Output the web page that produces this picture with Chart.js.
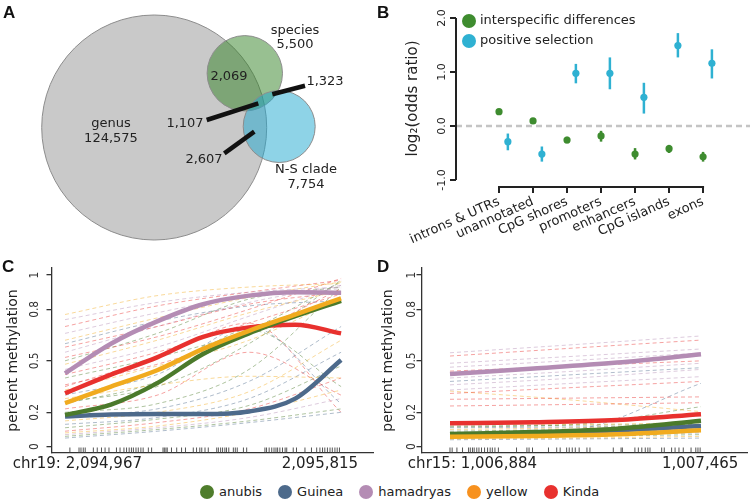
<!DOCTYPE html>
<html lang="en">
<head>
<meta charset="UTF-8">
<title>Methylation panels</title>
<style>
    body { margin: 0; background: #fff; font-family: "DejaVu Sans", Verdana, sans-serif; }
    #fig { position: relative; width: 751px; height: 503px; overflow: hidden; }
    canvas { position: absolute; }
    .tag { position: absolute; font-family: "Liberation Sans", Arial, sans-serif; font-weight: bold; font-size: 17px; line-height: 17px; color: #111; }
    #legend { position: absolute; left: 200px; top: 484px; display: flex; align-items: center; font-size: 13px; color: #222; }
    #legend span.dot { display: inline-block; width: 14px; height: 14px; border-radius: 50%; margin-right: 5px; }
    #legend span.lab { margin-right: 16px; }
</style>
</head>
<body>
<div id="fig">
    <canvas id="venn" width="378" height="252" style="left:0;top:0"></canvas>
    <canvas id="odds" width="373" height="252" style="left:378px;top:0"></canvas>
    <canvas id="regC" width="376" height="214" style="left:0;top:258px"></canvas>
    <canvas id="regD" width="375" height="214" style="left:376px;top:258px"></canvas>
    <div class="tag" style="left:3px;top:4px">A</div>
    <div class="tag" style="left:377px;top:4px">B</div>
    <div class="tag" style="left:2px;top:258px">C</div>
    <div class="tag" style="left:377px;top:258px">D</div>
    <div id="legend"></div>
</div>
<script src="https://cdn.jsdelivr.net/npm/chart.js"></script>
<script>
// ---- data ----
const species = ['anubis', 'Guinea', 'hamadryas', 'yellow', 'Kinda'];

// A: venn counts
const vennSets = ['genus', 'species', 'N-S clade'];
const vennSetSizes = [124575, 5500, 7754];
// genus&species, species&N-S, all three, genus&N-S
const vennOverlaps = [2069, 1323, 1107, 2607];

// B: log2 odds ratios
const features = ['introns & UTRs', 'unannotated', 'CpG shores', 'promoters', 'enhancers', 'CpG islands', 'exons'];
const interOR = [0.265, 0.093, -0.26, -0.185, -0.52, -0.42, -0.57];
const interLo = [0.235, 0.065, -0.32, -0.29, -0.62, -0.50, -0.66];
const interHi = [0.295, 0.12, -0.20, -0.09, -0.41, -0.35, -0.48];
const posOR = [-0.29, -0.52, 0.975, 0.975, 0.53, 1.49, 1.16];
const posLo = [-0.45, -0.66, 0.79, 0.68, 0.23, 1.27, 0.88];
const posHi = [-0.14, -0.38, 1.15, 1.27, 0.80, 1.72, 1.42];
const oddsTicks = [-1, 0, 1, 2];
const oddsTickLabels = ['-1.0', '0.0', '1.0', '2.0'];

// C/D shared y ticks
const methTicks = [0, 0.2, 0.5, 0.8, 1];
const methTickLabels = ['0', '0.2', '0.5', '0.8', '1'];

// C: chr19 region (x = bp from region start)
const xLabelsC = ['chr19: 2,094,967', '2,095,815'];
const xLabelPosC = [38, 783];
const curveXC = [0, 141, 283, 424, 565, 707, 848];
const curvesC = [
    [0.185, 0.245, 0.37, 0.54, 0.66, 0.76, 0.85],    // anubis
    [0.175, 0.187, 0.19, 0.19, 0.205, 0.28, 0.505],  // Guinea
    [0.427, 0.60, 0.73, 0.83, 0.88, 0.90, 0.897],    // hamadryas
    [0.253, 0.35, 0.445, 0.57, 0.675, 0.77, 0.864],  // yellow
    [0.311, 0.42, 0.52, 0.64, 0.695, 0.71, 0.66]     // Kinda
];
const dashXC = [0, 283, 565, 848];
const dashC = [
    [0.77, 0.88, 0.93, 0.95], [0.74, 0.84, 0.90, 0.93], [0.70, 0.82, 0.90, 0.97], [0.66, 0.78, 0.88, 0.92],
    [0.62, 0.75, 0.87, 0.96], [0.58, 0.70, 0.83, 0.90], [0.55, 0.70, 0.84, 0.94], [0.52, 0.64, 0.80, 0.98],
    [0.48, 0.62, 0.78, 0.91], [0.45, 0.58, 0.76, 0.94], [0.42, 0.55, 0.72, 0.89], [0.40, 0.52, 0.68, 0.96],
    [0.36, 0.48, 0.66, 0.92], [0.33, 0.47, 0.62, 0.86], [0.30, 0.42, 0.70, 0.25], [0.28, 0.36, 0.41, 0.40],
    [0.26, 0.35, 0.60, 0.97], [0.22, 0.30, 0.55, 0.30], [0.20, 0.25, 0.45, 0.93], [0.18, 0.22, 0.38, 0.70],
    [0.15, 0.20, 0.32, 0.62], [0.13, 0.17, 0.28, 0.55], [0.11, 0.16, 0.24, 0.47], [0.09, 0.14, 0.22, 0.40],
    [0.08, 0.12, 0.20, 0.33], [0.07, 0.11, 0.17, 0.28], [0.06, 0.10, 0.15, 0.22], [0.05, 0.09, 0.14, 0.20],
    [0.25, 0.38, 0.68, 0.35], [0.35, 0.52, 0.72, 0.20], [0.60, 0.73, 0.82, 0.85], [0.50, 0.66, 0.86, 0.93]
];
const dashSpeciesC = [3, 2, 4, 2, 3, 4, 2, 4, 3, 2, 4, 0, 4, 3, 1, 3, 0, 4, 0, 1, 3, 1, 0, 4, 3, 2, 0, 1, 0, 4, 1, 0];
const rugC = [15, 43, 49, 56, 62, 87, 99, 112, 123, 135, 158, 169, 181, 189, 197, 204, 210, 218, 225, 233, 240, 256, 266,
    301, 305, 310, 314, 327, 343, 358, 370, 394, 404, 414, 420, 430, 440, 466, 471, 478, 484, 491, 496, 503, 517, 523, 529,
    548, 558, 614, 619, 627, 635, 642, 648, 653, 660, 668, 676, 681, 701, 711, 737, 757, 773, 783, 791, 798, 806, 814,
    821, 829, 836, 843];

// D: chr15 region
const xLabelsD = ['chr15: 1,006,884', '1,007,465'];
const xLabelPosD = [52, 579];
const curveXD = [0, 194, 387, 581];
const curvesD = [
    [0.074, 0.085, 0.105, 0.151],
    [0.072, 0.08, 0.095, 0.12],
    [0.423, 0.455, 0.49, 0.538],
    [0.058, 0.062, 0.072, 0.095],
    [0.136, 0.142, 0.155, 0.189]
];
const dashXD = [0, 290, 581];
const dashD = [
    [0.547, 0.595, 0.645], [0.528, 0.575, 0.621], [0.486, 0.527, 0.569], [0.463, 0.503, 0.545],
    [0.44, 0.47, 0.50], [0.40, 0.44, 0.486], [0.38, 0.42, 0.46], [0.33, 0.37, 0.408],
    [0.31, 0.345, 0.38], [0.276, 0.283, 0.29], [0.237, 0.246, 0.256], [0.324, 0.27, 0.204],
    [0.36, 0.40, 0.45], [0.13, 0.13, 0.14], [0.115, 0.13, 0.233], [0.11, 0.115, 0.12],
    [0.10, 0.11, 0.13], [0.09, 0.10, 0.11], [0.08, 0.09, 0.10], [0.07, 0.08, 0.09],
    [0.06, 0.07, 0.08], [0.05, 0.06, 0.07], [0.045, 0.05, 0.06], [0.04, 0.045, 0.05],
    [0.07, 0.10, 0.369], [0.12, 0.125, 0.13]
];
const dashSpeciesD = [2, 4, 2, 2, 4, 2, 1, 2, 4, 4, 4, 3, 2, 3, 0, 1, 3, 0, 4, 3, 1, 0, 3, 1, 1, 0];
const rugD = [0, 5, 16, 29, 43, 47, 52, 56, 62, 67, 73, 80, 87, 93, 98, 104, 112, 154, 178, 183, 191, 228, 247, 255,
    270, 276, 283, 290, 299, 317, 324, 378, 396, 399, 428, 436, 444, 452, 458, 463, 490, 496, 513, 521, 530, 540,
    558, 569, 574, 579];

// ---- styles ----
const FONT = 'DejaVu Sans';
const lineColors = ['#4b7a2b', '#4d6a8b', '#b48cb4', '#f1ab1f', '#e8312e'];
const dotColors = ['#4f7d2c', '#4d6a8b', '#b48cb4', '#f7911e', '#e8312e'];
const curveOrder = [1, 4, 3, 0, 2];
const interColor = '#3e8c2f';
const posColor = '#2fb1d2';

function rgba(hex, a) {
    const n = parseInt(hex.slice(1), 16);
    return `rgba(${n >> 16}, ${(n >> 8) & 255}, ${n & 255}, ${a})`;
}

// legend
const legend = document.getElementById('legend');
species.forEach((s, i) => {
    legend.insertAdjacentHTML('beforeend',
        `<span class="dot" style="background:${dotColors[i]}"></span><span class="lab">${s}</span>`);
});

// ---- A: venn (bubble chart, 1 unit = 1 px) ----
const vennGeom = [{ x: 154.2, y: 127.5, r: 112.5 }, { x: 244.8, y: 73.3, r: 37.7 }, { x: 279.2, y: 126.5, r: 36 }];
const vennFill = ['#c9c9c9', 'rgba(50, 130, 35, 0.5)', 'rgba(30, 168, 208, 0.5)'];
const leaders = [
    [{ x: 258.3, y: 103.3 }, { x: 206.7, y: 120 }],
    [{ x: 272.3, y: 94.3 }, { x: 305, y: 85.7 }],
    [{ x: 254.3, y: 131.7 }, { x: 224.3, y: 153.3 }]
];
const fmt = n => n.toLocaleString('en-US');

const vennText = {
    id: 'vennText',
    afterDatasetsDraw(chart) {
        const { ctx, scales: { x, y } } = chart;
        const put = (txt, vx, vy) => ctx.fillText(txt, x.getPixelForValue(vx), y.getPixelForValue(vy));
        ctx.save();
        ctx.font = `13px "${FONT}"`;
        ctx.fillStyle = '#222';
        ctx.textAlign = 'center';
        ctx.textBaseline = 'middle';
        put(vennSets[0], 111, 124); put(fmt(vennSetSizes[0]), 111, 139);
        put(vennSets[1], 295, 31); put(fmt(vennSetSizes[1]), 295, 45);
        put(vennSets[2], 306, 170); put(fmt(vennSetSizes[2]), 306, 185);
        put(fmt(vennOverlaps[0]), 229, 77);
        put(fmt(vennOverlaps[1]), 325, 82);
        put(fmt(vennOverlaps[2]), 185, 124);
        put(fmt(vennOverlaps[3]), 204, 160);
        ctx.restore();
    }
};

new Chart(document.getElementById('venn'), {
    type: 'bubble',
    data: {
        datasets: [
            ...leaders.map(pts => ({
                type: 'line', data: pts, borderColor: '#111', borderWidth: 4.5,
                pointRadius: 0, borderCapStyle: 'butt', order: 0
            })),
            ...vennGeom.map((g, i) => ({
                data: [g], backgroundColor: vennFill[i], borderColor: '#8c8c8c', borderWidth: 1, order: 3 - i
            }))
        ]
    },
    options: {
        responsive: false, animation: false, devicePixelRatio: 1,
        layout: { padding: 0, autoPadding: false },
        plugins: { legend: { display: false }, tooltip: { enabled: false } },
        scales: {
            x: { type: 'linear', min: 0, max: 378, display: false },
            y: { type: 'linear', min: 0, max: 252, reverse: true, display: false }
        }
    },
    plugins: [vennText]
});

// ---- B: odds ratios ----
const oddsExtras = {
    id: 'oddsExtras',
    beforeDatasetsDraw(chart) {
        const { ctx, scales: { x, y } } = chart;
        ctx.save();
        ctx.lineWidth = 2.5;
        const bars = (lo, hi, shift, col) => {
            ctx.strokeStyle = col;
            lo.forEach((l, i) => {
                const px = x.getPixelForValue(i + shift);
                ctx.beginPath();
                ctx.moveTo(px, y.getPixelForValue(l));
                ctx.lineTo(px, y.getPixelForValue(hi[i]));
                ctx.stroke();
            });
        };
        bars(interLo, interHi, 0, interColor);
        bars(posLo, posHi, 0.26, posColor);
        ctx.restore();
    },
    afterDraw(chart) {
        const { ctx, chartArea, scales: { x, y } } = chart;
        ctx.save();
        ctx.strokeStyle = '#222';
        ctx.lineWidth = 2;
        ctx.beginPath();
        ctx.moveTo(chartArea.left, y.getPixelForValue(oddsTicks[0]));
        ctx.lineTo(chartArea.left, y.getPixelForValue(oddsTicks[oddsTicks.length - 1]));
        ctx.moveTo(x.getPixelForValue(0) - 1, chartArea.bottom);
        ctx.lineTo(x.getPixelForValue(features.length - 1) + 1, chartArea.bottom);
        ctx.stroke();
        // rotated y tick labels
        ctx.fillStyle = '#222';
        ctx.font = `11px "${FONT}"`;
        ctx.textAlign = 'center';
        ctx.textBaseline = 'middle';
        oddsTicks.forEach((v, i) => {
            ctx.save();
            ctx.translate(chartArea.left - 14, y.getPixelForValue(v));
            ctx.rotate(-Math.PI / 2);
            ctx.fillText(oddsTickLabels[i], 0, 0);
            ctx.restore();
        });
        // legend
        ctx.font = `13px "${FONT}"`;
        ctx.textAlign = 'left';
        [['interspecific differences', interColor, 21], ['positive selection', posColor, 41]].forEach(([t, c, py]) => {
            ctx.fillStyle = c;
            ctx.beginPath();
            ctx.arc(chartArea.left + 13, py, 7, 0, Math.PI * 2);
            ctx.fill();
            ctx.fillStyle = '#222';
            ctx.fillText(t, chartArea.left + 24, py);
        });
        ctx.restore();
    }
};

new Chart(document.getElementById('odds'), {
    type: 'scatter',
    data: {
        datasets: [
            { data: interOR.map((v, i) => ({ x: i, y: v })), backgroundColor: interColor, borderWidth: 0, pointRadius: 3.6 },
            { data: posOR.map((v, i) => ({ x: i + 0.26, y: v })), backgroundColor: posColor, borderWidth: 0, pointRadius: 3.6 },
            {
                data: [{ x: -1.265, y: 0 }, { x: 7.38, y: 0 }], showLine: true, pointRadius: 0,
                borderColor: '#c4c4c4', borderWidth: 2.5, borderDash: [6, 4]
            }
        ]
    },
    options: {
        responsive: false, animation: false, devicePixelRatio: 1,
        layout: { padding: { top: 10, right: 1, left: 0, bottom: 0 }, autoPadding: false },
        plugins: { legend: { display: false }, tooltip: { enabled: false } },
        scales: {
            x: {
                type: 'linear', min: -1.265, max: 7.38,
                afterBuildTicks: s => { s.ticks = features.map((f, i) => ({ value: i })); },
                afterFit: s => { s.height = 65; },
                ticks: {
                    callback: (v, i) => features[i], autoSkip: false, minRotation: 24, maxRotation: 24,
                    color: '#222', font: { family: FONT, size: 13 }, padding: 1
                },
                grid: { drawOnChartArea: false, tickLength: 6, lineWidth: 2, color: '#222' },
                border: { display: false }
            },
            y: {
                type: 'linear', min: -1.13, max: 2.148,
                afterBuildTicks: s => { s.ticks = oddsTicks.map(v => ({ value: v })); },
                afterFit: s => { s.width = 78; },
                ticks: { display: false },
                grid: { drawOnChartArea: false, tickLength: 6, lineWidth: 2, color: '#222' },
                border: { display: false },
                title: {
                    display: true, text: 'log\u2082(odds ratio)', color: '#222',
                    font: { family: FONT, size: 15 }, padding: { top: 26, bottom: 0 }
                }
            }
        }
    },
    plugins: [oddsExtras]
});

// ---- C / D: methylation along regions ----
function methPanel(id, p) {
    const datasets = [];
    p.curves.forEach((vals, k) => datasets.push({
        data: p.curveX.map((x, i) => ({ x, y: vals[i] })),
        borderColor: lineColors[k], borderWidth: 4.5, pointRadius: 0,
        cubicInterpolationMode: 'monotone', order: curveOrder[k]
    }));
    datasets.push({
        data: p.rug.map(x => ({ x, y: -0.019 })), showLine: false,
        pointStyle: 'line', rotation: 90, radius: 2.4, borderColor: '#555', borderWidth: 1, order: 5
    });
    p.dash.forEach((vals, k) => datasets.push({
        data: p.dashX.map((x, i) => ({ x, y: vals[i] })),
        borderColor: rgba(lineColors[p.dashSpecies[k]], 0.45), borderWidth: 1, borderDash: [4, 3],
        pointRadius: 0, cubicInterpolationMode: 'monotone', order: 10 + k
    }));

    const yLabels = {
        id: 'yLabels',
        afterDraw(chart) {
            const { ctx, chartArea, scales: { y } } = chart;
            ctx.save();
            ctx.fillStyle = '#333';
            ctx.font = `13px "${FONT}"`;
            ctx.textAlign = 'center';
            ctx.textBaseline = 'middle';
            methTicks.forEach((v, i) => {
                ctx.save();
                ctx.translate(chartArea.left - p.labelGap, y.getPixelForValue(v));
                ctx.rotate(-Math.PI / 2);
                ctx.scale(0.82, 1);
                ctx.fillText(methTickLabels[i], 0, 0);
                ctx.restore();
            });
            ctx.restore();
        }
    };

    new Chart(document.getElementById(id), {
        type: 'line',
        data: { datasets },
        options: {
            responsive: false, animation: false, devicePixelRatio: 1,
            layout: { padding: { top: 10, right: p.padRight, left: 0, bottom: 0 }, autoPadding: false },
            plugins: { legend: { display: false }, tooltip: { enabled: false } },
            scales: {
                x: {
                    type: 'linear', min: p.xMin, max: p.xMax,
                    afterBuildTicks: s => { s.ticks = p.xLabelPos.map(v => ({ value: v })); },
                    afterFit: s => { s.height = 19; },
                    ticks: {
                        callback: (v, i) => p.xLabels[i], autoSkip: false, maxRotation: 0, minRotation: 0,
                        color: '#222', font: { family: FONT, size: 15 }, padding: 2
                    },
                    grid: { display: false, drawTicks: false },
                    border: { display: true, color: '#333', width: 1.3 }
                },
                y: {
                    type: 'linear', min: -0.037, max: 1.041,
                    afterBuildTicks: s => { s.ticks = methTicks.map(v => ({ value: v })); },
                    afterFit: s => { s.width = p.yWidth; },
                    ticks: { display: false },
                    grid: { drawOnChartArea: false, tickLength: 5.5, lineWidth: 1.3, color: '#333' },
                    border: { display: true, color: '#333', width: 1.3 },
                    title: {
                        display: true, text: 'percent methylation', color: '#222',
                        font: { family: FONT, size: 14 }, padding: { top: p.titlePad, bottom: 0 }
                    }
                }
            }
        },
        plugins: [yLabels]
    });
}

methPanel('regC', {
    curves: curvesC, curveX: curveXC, dash: dashC, dashX: dashXC, dashSpecies: dashSpeciesC, rug: rugC,
    xLabels: xLabelsC, xLabelPos: xLabelPosC, xMin: -40, xMax: 946,
    yWidth: 52, padRight: 3, titlePad: 5, labelGap: 17
});
methPanel('regD', {
    curves: curvesD, curveX: curveXD, dash: dashD, dashX: dashXD, dashSpecies: dashSpeciesD, rug: rugD,
    xLabels: xLabelsD, xLabelPos: xLabelPosD, xMin: -64.8, xMax: 687.5,
    yWidth: 46, padRight: 4, titlePad: 4, labelGap: 10
});
</script>
</body>
</html>
